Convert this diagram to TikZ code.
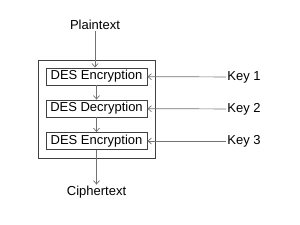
\documentclass[tikz,border=0pt]{standalone}
\usepackage{fontspec}
\setmainfont{Liberation Sans}
\usetikzlibrary{arrows,arrows.meta,positioning}

\begin{document}
\begin{tikzpicture}[x=1pt,y=-1pt,>={Straight Barb[length=3.5pt,width=6pt]},
                    line width=0.7pt,
                    font=\fontsize{13}{15}\selectfont,
                    des box/.style={draw=black!75,line width=0.9pt,minimum width=101pt,
                                    minimum height=17pt,inner sep=0pt},
                    label node/.style={inner sep=1pt,text=black},
                    flow/.style={->,draw=black!55}]
  \useasboundingbox (0,0) rectangle (300,225);

  % outer frame
  \draw[draw=black!75,line width=0.9pt] (38,60) rectangle (155,158);

  \node[des box] (enc1) at (96.5,76.5) {DES Encryption};
  \node[des box] (dec) at (96.5,108.5) {DES Decryption};
  \node[des box] (enc2) at (96.5,141) {DES Encryption};

  \node[label node] (plain) at (95,25) {Plaintext};
  \node[label node] (cipher) at (96.5,192) {Ciphertext};
  \node[label node,anchor=west] (key1) at (226,77) {Key 1};
  \node[label node,anchor=west] (key2) at (226,109) {Key 2};
  \node[label node,anchor=west] (key3) at (226,141) {Key 3};

  \draw[flow] (plain) -- (plain |- enc1.north);
  \draw[flow] (enc1) -- (dec);
  \draw[flow] (dec) -- (enc2);
  \draw[flow] (enc2) -- (cipher);
  \draw[flow] (key1) -- (enc1);
  \draw[flow] (key2) -- (dec);
  \draw[flow] (key3) -- (enc2);
\end{tikzpicture}
\end{document}
